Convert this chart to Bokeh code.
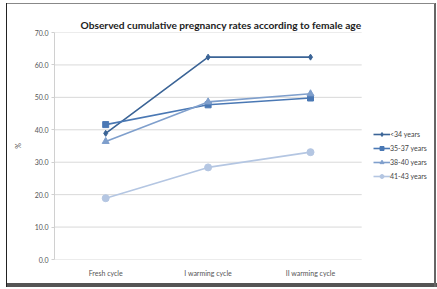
from bokeh.plotting import figure
from bokeh.models import Range1d, Legend, LegendItem, Title, FixedTicker, NumeralTickFormatter
from bokeh.embed import file_html
from bokeh.resources import INLINE

categories = ["Fresh cycle", "I warming cycle", "II warming cycle"]
series_names = ["<34 years", "35-37 years", "38-40 years", "41-43 years"]
s_lt34 = [38.9, 62.4, 62.4]
s_35_37 = [41.6, 47.7, 49.8]
s_38_40 = [36.4, 48.6, 51.1]
s_41_43 = [18.9, 28.4, 33.1]
y_ticks = [0, 10, 20, 30, 40, 50, 60, 70]

colors = ["#3b6496", "#4a78b4", "#7f9fcc", "#b4c6e2"]
markers = ["diamond", "square", "triangle", "circle"]
sizes = [6, 6, 7, 7]
values = [s_lt34, s_35_37, s_38_40, s_41_43]

FONT = "Lato"

# category positions (centres of equal slots)
xpos = [i + 0.5 for i in range(len(categories))]
n_cat = len(categories)

W, H = 437, 289
left_b, right_b = 54, 5
slot_px = 102.4
frame_w = W - left_b - right_b
x_end = frame_w / slot_px

p = figure(width=W, height=H, x_range=Range1d(0, x_end),
           y_range=Range1d(0, 70), output_backend="svg", toolbar_location=None,
           min_border_left=left_b, min_border_right=right_b, min_border_top=32, min_border_bottom=30)
p.title = None
t = Title(text="Observed cumulative pregnancy rates according to female age", align="left",
          text_font=FONT, text_font_size="10.2px", text_font_style="bold", text_color="#222222",
          offset=26, standoff=3)
p.add_layout(t, "above")
p.outline_line_color = None
p.border_fill_alpha = 0
p.background_fill_color = "white"

# horizontal gridlines limited to the plot area
p.segment(x0=[0] * len(y_ticks), x1=[n_cat] * len(y_ticks), y0=y_ticks, y1=y_ticks,
          line_color="#d9d9d9", line_width=1)

items = []
for name, vals, c, m, s in zip(series_names, values, colors, markers, sizes):
    r1 = p.line(xpos, vals, line_color=c, line_width=1.6)
    r2 = p.scatter(xpos, vals, marker=m, size=s, fill_color=c, line_color=c)
    items.append(LegendItem(label=name, renderers=[r1, r2]))

legend = Legend(items=items, location=(319, 78), background_fill_alpha=0, border_line_color=None,
                label_text_font=FONT, label_text_font_size="7px", label_text_color="#444444",
                glyph_width=17, glyph_height=10, spacing=4, label_standoff=0, padding=0, margin=0,
                label_height=10)
p.add_layout(legend, "center")

p.xaxis.ticker = FixedTicker(ticks=xpos)
p.xaxis.major_label_overrides = {x: c for x, c in zip(xpos, categories)}
p.yaxis.ticker = FixedTicker(ticks=y_ticks)
p.yaxis.formatter = NumeralTickFormatter(format="0.0")
p.yaxis.axis_label = "%"
p.yaxis.axis_label_text_font = FONT
p.yaxis.axis_label_text_font_size = "7px"
p.yaxis.axis_label_text_font_style = "normal"
p.yaxis.axis_label_text_color = "#444444"
p.yaxis.axis_label_standoff = 10
for ax in [p.xaxis[0], p.yaxis[0]]:
    ax.major_label_text_font = FONT
    ax.major_label_text_font_size = "7px"
    ax.major_label_text_color = "#555555"
    ax.major_tick_line_color = None
    ax.minor_tick_line_color = None
p.xaxis.axis_line_color = None
p.yaxis.axis_line_color = "#d0d0d0"
p.yaxis.major_tick_line_color = "#d0d0d0"
p.yaxis.major_tick_out = 3
p.yaxis.major_tick_in = 0
p.yaxis.major_label_standoff = 3
p.xaxis.major_label_standoff = 3
p.xgrid.grid_line_color = None
p.ygrid.grid_line_color = None

p.styles = {
    "background-image": "linear-gradient(#222,#222), linear-gradient(#888,#888), "
                        "linear-gradient(#666,#666), linear-gradient(#555,#555)",
    "background-size": "1px 284px, 429px 1px, 2px 284px, 431px 4px",
    "background-position": "6px 3px, 6px 3px, 434px 3px, 6px 283px",
    "background-repeat": "no-repeat",
}

open("out.html", "w").write(file_html(p, INLINE))
